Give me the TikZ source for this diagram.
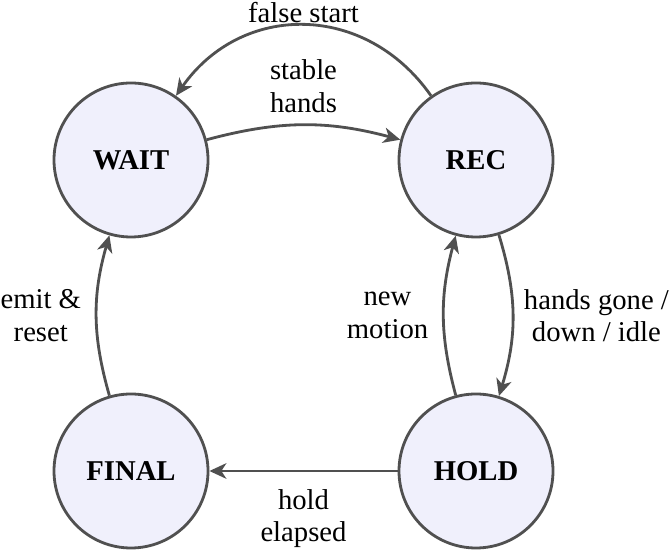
\documentclass[tikz,border=0pt]{standalone}
\usepackage{fontspec}
\setmainfont{Liberation Serif}
\usetikzlibrary{arrows.meta}

\tikzset{
    state/.style={circle,draw=linegray,fill=statefill,line width=2pt,
        minimum size=3.85cm,inner sep=0pt,font=\fontsize{20.4}{24}\selectfont\bfseries},
    trans/.style={draw=linegray,line width=2pt,-{Stealth[length=12pt,width=11pt,inset=3.5pt]}},
    lbl/.style={font=\fontsize{20.4}{23}\selectfont,align=center,inner sep=2pt}
}
\definecolor{statefill}{HTML}{F0F0FC}
\definecolor{linegray}{HTML}{505050}

\begin{document}
\begin{tikzpicture}
    \useasboundingbox (0,0) rectangle (16.775,13.75);

    % States
    \node[state] (wait) at (3.275,9.75) {WAIT};
    \node[state] (rec) at (11.9,9.75) {REC};
    \node[state] (final) at (3.275,1.975) {FINAL};
    \node[state] (hold) at (11.9,1.975) {HOLD};

    % Top pair
    \draw[trans] (wait) to[bend left=15] node[lbl,above=6pt] (lstable) {stable\\hands} (rec);
    \draw[trans] (rec) to[out=125,in=55,looseness=1.15] node[lbl,above=-1pt] (lfalse) {false start} (wait);

    % Right pair
    \draw[trans] (rec) to[bend left=17] node[lbl,right=5pt] (lgone) {hands gone /\\down / idle} (hold);
    \draw[trans] (hold) to[bend left=15] node[lbl,left=8pt] (lmotion) {new\\motion} (rec);

    % Bottom and left
    \draw[trans] (hold) -- node[lbl,below=10pt] (lelapsed) {hold\\elapsed} (final);
    \draw[trans] (final) to[bend left=16] node[lbl,left=8pt] (lemit) {emit \&\\reset} (wait);
\end{tikzpicture}
\end{document}
